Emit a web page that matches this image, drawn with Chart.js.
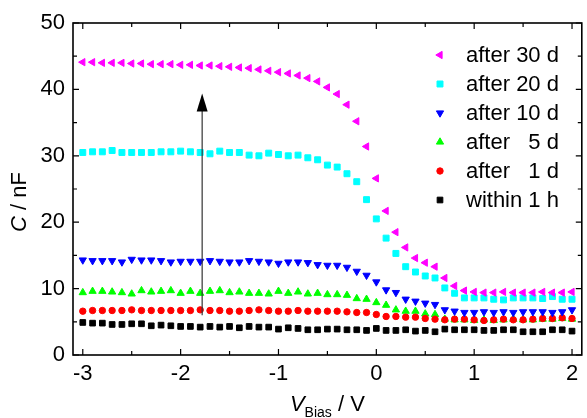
<!DOCTYPE html>
<html>
<head>
<meta charset="utf-8">
<script src="https://cdn.jsdelivr.net/npm/chart.js@4"></script>
<style>
  html, body { margin: 0; padding: 0; background: #fff; }
</style>
</head>
<body>
<canvas id="capChart" width="587" height="418"></canvas>
<script>
// bias voltage (V), one point every 0.1 V
const biasVoltage = [
  -3.0, -2.9, -2.8, -2.7, -2.6, -2.5, -2.4, -2.3, -2.2, -2.1,
  -2.0, -1.9, -1.8, -1.7, -1.6, -1.5, -1.4, -1.3, -1.2, -1.1,
  -1.0, -0.9, -0.8, -0.7, -0.6, -0.5, -0.4, -0.3, -0.2, -0.1,
   0.0,  0.1,  0.2,  0.3,  0.4,  0.5,  0.6,  0.7,  0.8,  0.9,
   1.0,  1.1,  1.2,  1.3,  1.4,  1.5,  1.6,  1.7,  1.8,  1.9, 2.0
];

// capacitance (nF)
const after30d = [
  44.1, 44.1, 44.0, 44.0, 44.0, 43.9, 43.9, 43.8, 43.8, 43.8,
  43.7, 43.7, 43.6, 43.6, 43.5, 43.4, 43.3, 43.2, 43.0, 42.8,
  42.6, 42.4, 42.1, 41.7, 41.2, 40.3, 39.3, 37.7, 35.2, 31.4,
  26.6, 21.7, 18.5, 16.2, 14.6, 13.9, 13.3, 11.6, 10.4, 9.7,
  9.5, 9.4, 9.4, 9.5, 9.4, 9.4, 9.4, 9.5, 9.4, 9.4, 9.5
];
const after20d = [
  30.5, 30.6, 30.6, 30.8, 30.5, 30.5, 30.5, 30.5, 30.6, 30.6,
  30.7, 30.6, 30.5, 30.3, 30.7, 30.5, 30.5, 30.1, 30.0, 30.4,
  30.2, 30.0, 30.1, 29.7, 29.4, 28.6, 28.3, 27.3, 26.1, 23.4,
  20.5, 17.6, 15.3, 13.3, 12.5, 11.9, 11.6, 10.1, 9.3, 8.6,
  8.6, 8.6, 8.4, 8.3, 8.6, 8.6, 8.6, 8.5, 8.8, 8.4, 8.4
];
const after10d = [
  14.3, 14.2, 14.2, 14.2, 14.0, 14.4, 14.3, 14.3, 14.2, 14.0,
  14.1, 14.1, 14.1, 14.2, 14.1, 14.0, 14.0, 14.2, 14.1, 14.0,
  13.8, 14.0, 14.0, 13.9, 13.6, 13.5, 13.5, 13.2, 12.6, 12.0,
  11.0, 9.8, 9.4, 8.4, 8.1, 7.8, 7.6, 6.8, 6.6, 6.4,
  6.4, 6.5, 6.4, 6.5, 6.4, 6.5, 6.5, 6.5, 6.4, 6.5, 6.8
];
const after5d = [
  9.4, 9.6, 9.6, 9.5, 9.4, 9.2, 9.7, 9.5, 9.6, 9.7,
  9.3, 9.6, 9.3, 9.6, 9.7, 9.4, 9.5, 9.3, 9.3, 9.2,
  9.6, 9.3, 9.5, 9.2, 9.3, 9.1, 9.1, 9.0, 8.5, 8.4,
  7.9, 7.5, 6.8, 6.6, 6.6, 6.2, 6.1, 5.4, 5.3, 5.3,
  5.2, 5.3, 5.2, 5.3, 5.4, 5.3, 5.3, 5.4, 5.4, 5.5, 5.4
];
const after1d = [
  6.6, 6.7, 6.7, 6.7, 6.7, 6.8, 6.7, 6.7, 6.7, 6.7,
  6.7, 6.7, 6.8, 6.7, 6.7, 6.6, 6.6, 6.7, 6.8, 6.7,
  6.6, 6.6, 6.7, 6.6, 6.6, 6.6, 6.6, 6.5, 6.4, 6.4,
  6.1, 5.8, 5.8, 5.7, 5.7, 5.5, 5.4, 5.3, 5.4, 5.4,
  5.3, 5.2, 5.3, 5.4, 5.3, 5.3, 5.4, 5.5, 5.5, 5.6, 5.5
];
const within1h = [
  4.9, 4.8, 4.8, 4.6, 4.6, 4.7, 4.7, 4.4, 4.5, 4.4,
  4.3, 4.3, 4.2, 4.3, 4.2, 4.3, 4.1, 4.3, 4.2, 4.2,
  3.9, 4.1, 4.0, 3.8, 3.8, 3.9, 3.9, 3.8, 3.8, 3.7,
  4.0, 3.7, 3.7, 3.8, 3.6, 3.7, 3.5, 3.9, 3.8, 3.8,
  3.8, 3.7, 3.7, 3.8, 3.8, 3.5, 3.5, 3.5, 3.8, 3.8, 3.6
];

const seriesLabels = ["after 30 d", "after 20 d", "after 10 d", "after   5 d", "after   1 d", "within 1 h"];
const xTicks = [-3, -2, -1, 0, 1, 2];
const xTickLabels = ["-3", "-2", "-1", "0", "1", "2"];
const xMinorTicks = [-2.5, -1.5, -0.5, 0.5, 1.5];
const yTicks = [0, 10, 20, 30, 40, 50];
const yTickLabels = ["0", "10", "20", "30", "40", "50"];
const yMinorTicks = [5, 15, 25, 35, 45];

// arrow: x position, start and tip (nF)
const arrowX = -1.78;
const arrowFrom = 6.0;
const arrowTo = 39.4;

const FONT = "'Liberation Sans', Arial, sans-serif";
const FS = 22;

function toPoints(values) {
    return values.map((v, i) => ({ x: biasVoltage[i], y: v }));
}

function series(label, values, color, style, radius, rotation, order) {
    return {
        label: label,
        data: toPoints(values),
        backgroundColor: color,
        borderColor: color,
        borderWidth: 1,
        pointStyle: style,
        pointRadius: radius,
        pointRotation: rotation,
        pointHoverRadius: radius,
        showLine: false,
        order: order
    };
}

const datasets = [
    series(seriesLabels[0], after30d, "#ff00ff", "triangle", 4.2, 270, 0),
    series(seriesLabels[1], after20d, "#00ffff", "rect", 4.2, 0, 1),
    series(seriesLabels[2], after10d, "#0000ff", "triangle", 4.2, 180, 2),
    series(seriesLabels[3], after5d, "#00ff00", "triangle", 4.2, 0, 4),
    series(seriesLabels[4], after1d, "#ff0000", "circle", 3.2, 0, 3),
    series(seriesLabels[5], within1h, "#000000", "rect", 4.0, 0, 5)
];

const framePlugin = {
    id: "frame",
    afterDatasetsDraw(chart) {
        const ctx = chart.ctx;
        const x = chart.scales.x, y = chart.scales.y;
        const px = x.getPixelForValue(arrowX);
        const y0 = y.getPixelForValue(arrowFrom);
        const tip = y.getPixelForValue(arrowTo);
        ctx.save();
        ctx.strokeStyle = "#333";
        ctx.lineWidth = 1.2;
        ctx.beginPath();
        ctx.moveTo(px, y0);
        ctx.lineTo(px, tip + 16);
        ctx.stroke();
        ctx.fillStyle = "#000";
        ctx.beginPath();
        ctx.moveTo(px, tip);
        ctx.lineTo(px - 5.5, tip + 18);
        ctx.lineTo(px + 5.5, tip + 18);
        ctx.closePath();
        ctx.fill();
        ctx.restore();
    },
    afterDraw(chart) {
        const ctx = chart.ctx;
        const a = chart.chartArea;
        const x = chart.scales.x, y = chart.scales.y;
        ctx.save();

        // box
        ctx.strokeStyle = "#000";
        ctx.lineWidth = 1.6;
        ctx.strokeRect(a.left, a.top, a.right - a.left, a.bottom - a.top);

        // inward ticks on all four sides
        ctx.lineWidth = 1.2;
        ctx.beginPath();
        const tickX = (v, len) => {
            const p = x.getPixelForValue(v);
            ctx.moveTo(p, a.bottom); ctx.lineTo(p, a.bottom - len);
            ctx.moveTo(p, a.top); ctx.lineTo(p, a.top + len);
        };
        const tickY = (v, len) => {
            const p = y.getPixelForValue(v);
            ctx.moveTo(a.left, p); ctx.lineTo(a.left + len, p);
            ctx.moveTo(a.right, p); ctx.lineTo(a.right - len, p);
        };
        xTicks.forEach(v => tickX(v, 6));
        xMinorTicks.forEach(v => tickX(v, 4));
        yTicks.forEach(v => tickY(v, 6));
        yMinorTicks.forEach(v => tickY(v, 4));
        ctx.stroke();

        // legend
        const lx = 440, ly = 55, step = 29;
        ctx.font = FS + "px " + FONT;
        ctx.textBaseline = "middle";
        ctx.textAlign = "left";
        chart.data.datasets.forEach((ds, i) => {
            const cy = ly + i * step;
            ctx.fillStyle = ds.backgroundColor;
            ctx.strokeStyle = ds.borderColor;
            ctx.lineWidth = 1;
            Chart.helpers.drawPoint(ctx, {
                pointStyle: ds.pointStyle,
                radius: ds.pointRadius,
                rotation: ds.pointRotation,
                borderWidth: 1
            }, lx, cy);
            ctx.fillStyle = "#000";
            ctx.fillText(ds.label, 466, cy + 1);
        });

        // y axis title: C / nF
        ctx.save();
        ctx.translate(26, 202);
        ctx.rotate(-Math.PI / 2);
        ctx.textBaseline = "alphabetic";
        ctx.font = "italic " + FS + "px " + FONT;
        const wC = ctx.measureText("C").width;
        ctx.font = FS + "px " + FONT;
        const wRest = ctx.measureText(" / nF").width;
        let sx = -(wC + wRest) / 2;
        ctx.font = "italic " + FS + "px " + FONT;
        ctx.fillText("C", sx, 0);
        ctx.font = FS + "px " + FONT;
        ctx.fillText(" / nF", sx + wC, 0);
        ctx.restore();

        // x axis title: V_Bias / V
        ctx.textBaseline = "alphabetic";
        ctx.font = "italic " + FS + "px " + FONT;
        const wV = ctx.measureText("V").width;
        ctx.font = "14px " + FONT;
        const wB = ctx.measureText("Bias").width;
        ctx.font = FS + "px " + FONT;
        const wU = ctx.measureText(" / V").width;
        let tx = (a.left + a.right) / 2 - (wV + wB + wU) / 2;
        const base = 411;
        ctx.font = "italic " + FS + "px " + FONT;
        ctx.fillText("V", tx, base);
        ctx.font = "14px " + FONT;
        ctx.fillText("Bias", tx + wV, base + 6);
        ctx.font = FS + "px " + FONT;
        ctx.fillText(" / V", tx + wV + wB, base);

        ctx.restore();
    }
};

new Chart(document.getElementById("capChart"), {
    type: "scatter",
    data: { datasets: datasets },
    options: {
        responsive: false,
        animation: false,
        devicePixelRatio: 1,
        layout: { padding: { left: 0, top: 23, right: 1, bottom: 0 } },
        plugins: {
            legend: { display: false },
            tooltip: { enabled: false }
        },
        scales: {
            x: {
                type: "linear",
                min: -3.1,
                max: 2.1,
                afterBuildTicks: s => { s.ticks = xTicks.map(v => ({ value: v })); },
                afterFit: s => { s.height = 63; },
                grid: { display: false, drawTicks: false },
                border: { display: false },
                ticks: {
                    color: "#000",
                    font: { family: FONT, size: FS },
                    padding: 6,
                    maxRotation: 0,
                    autoSkip: false,
                    callback: v => xTickLabels[xTicks.indexOf(v)]
                }
            },
            y: {
                type: "linear",
                min: 0,
                max: 50,
                afterBuildTicks: s => { s.ticks = yTicks.map(v => ({ value: v })); },
                afterFit: s => { s.width = 73; },
                grid: { display: false, drawTicks: false },
                border: { display: false },
                ticks: {
                    color: "#000",
                    font: { family: FONT, size: FS },
                    padding: 8,
                    callback: v => yTickLabels[yTicks.indexOf(v)]
                }
            }
        }
    },
    plugins: [framePlugin]
});
</script>
</body>
</html>
